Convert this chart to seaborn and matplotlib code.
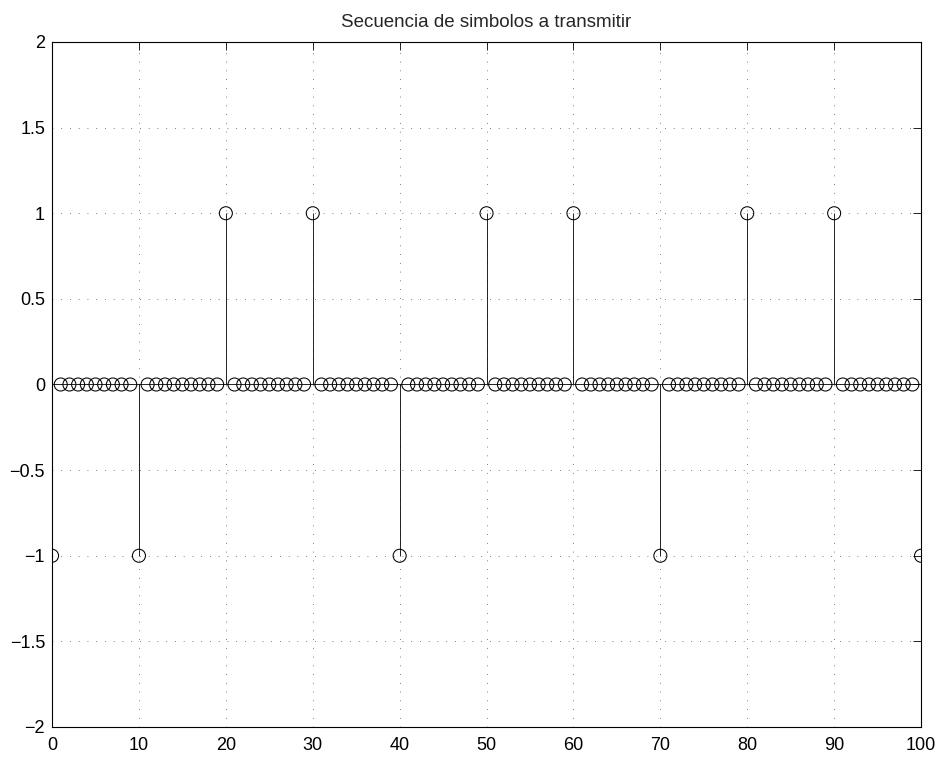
import numpy as np
import pandas as pd
import matplotlib
matplotlib.use("Agg")
import matplotlib.pyplot as plt
import seaborn as sns

n = list(range(0, 101))
symbol_positions = [0, 10, 20, 30, 40, 50, 60, 70, 80, 90, 100]
symbol_values = [-1, -1, 1, 1, -1, 1, 1, -1, 1, 1, -1]
vals = [0.0] * len(n)
for p, v in zip(symbol_positions, symbol_values):
    vals[p] = v
df = pd.DataFrame({"n": n, "x": vals})

xticks = [0, 10, 20, 30, 40, 50, 60, 70, 80, 90, 100]
yticks = [-2, -1.5, -1, -0.5, 0, 0.5, 1, 1.5, 2]
ytick_labels = ["\u22122", "\u22121.5", "\u22121", "\u22120.5", "0", "0.5", "1", "1.5", "2"]

sns.set_style("white")
plt.rcParams["font.family"] = ["Liberation Sans", "DejaVu Sans"]

fig = plt.figure(figsize=(9.41, 7.58), dpi=100)
ax = fig.add_axes([0.0553, 0.0409, 0.9235, 0.9037])

# baseline
ax.plot([min(n), max(n)], [0, 0], color="black", lw=0.6, zorder=2)
# stems
ax.vlines(df["n"], 0, df["x"], color="black", lw=0.6, zorder=2)
# markers
sns.scatterplot(data=df, x="n", y="x", ax=ax, marker="o", s=88,
                facecolor="none", edgecolor="black", linewidth=0.75, zorder=3,
                legend=False)

ax.set_xlim(0, 100)
ax.set_ylim(-2, 2)
ax.set_xticks(xticks)
ax.set_yticks(yticks)
ax.set_yticklabels(ytick_labels)
ax.set_xlabel("")
ax.set_ylabel("")
ax.grid(True, color="#555555", linestyle=(0, (1, 9.5)), lw=0.6)
ax.tick_params(direction="in", length=6, width=0.6, top=True, right=True,
               labelsize=13, colors="black")
ax.tick_params(axis="x", pad=7)
ax.tick_params(axis="y", pad=5)
for s in ax.spines.values():
    s.set_visible(True)
    s.set_color("black")
    s.set_linewidth(0.8)
ax.set_title("Secuencia de simbolos a transmitir", fontsize=13.5, pad=11)

fig.savefig("out.png", dpi=100)
